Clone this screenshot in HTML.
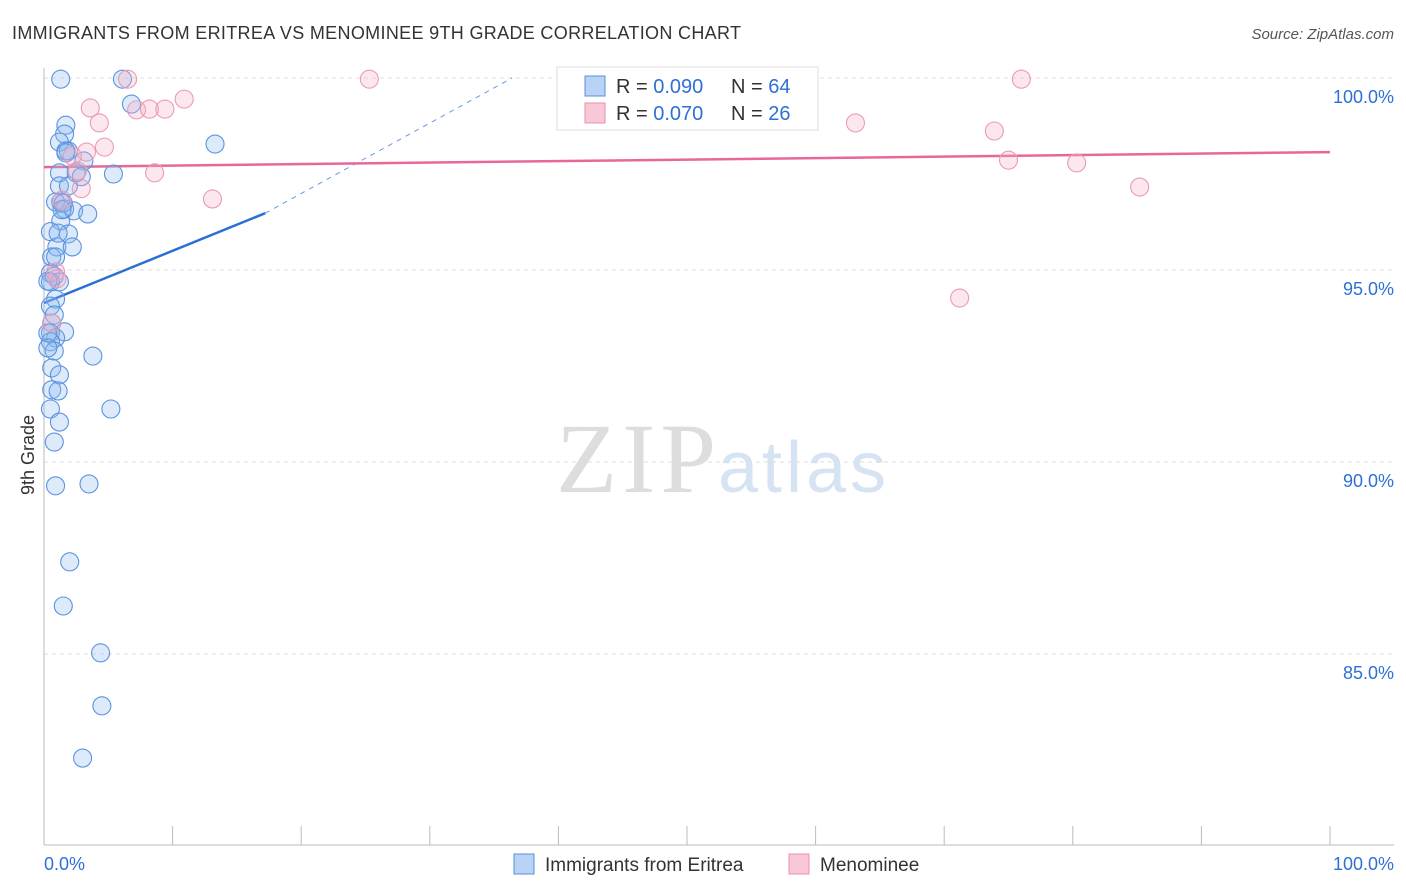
<!DOCTYPE html>
<html><head><meta charset="utf-8"><style>
body{margin:0;background:#fff;font-family:"Liberation Sans",sans-serif}
</style></head><body>
<svg width="1406" height="892" style="display:block">
<text x="12" y="39" font-size="18" fill="#333" textLength="729">IMMIGRANTS FROM ERITREA VS MENOMINEE 9TH GRADE CORRELATION CHART</text>
<text x="1394" y="39" font-size="15" fill="#555" text-anchor="end" font-style="italic">Source: ZipAtlas.com</text>
<text x="716" y="492" font-size="100" fill="#ddd" text-anchor="end" font-family="Liberation Serif" textLength="160">ZIP</text>
<text x="718" y="492" font-size="72" fill="#d6e3f3" textLength="168">atlas</text>
<text x="34" y="455" font-size="18" fill="#333" text-anchor="middle" transform="rotate(-90 34 455)">9th Grade</text>
<g id="grid"></g><g id="axes"></g><g id="trend"></g><g id="pts"></g>
<g>
<rect x="557" y="67" width="261" height="63" fill="#fff" stroke="#ddd"/>
<rect x="585" y="76" width="20" height="20" fill="#b8d3f5" stroke="#5a8fdc"/>
<text x="616" y="93" font-size="20" fill="#333">R = <tspan fill="#2f6fd6">0.090</tspan></text>
<text x="731" y="93" font-size="20" fill="#333">N = <tspan fill="#2f6fd6">64</tspan></text>
<rect x="585" y="103" width="20" height="20" fill="#f9c8d6" stroke="#e890ac"/>
<text x="616" y="120" font-size="20" fill="#333">R = <tspan fill="#2f6fd6">0.070</tspan></text>
<text x="731" y="120" font-size="20" fill="#333">N = <tspan fill="#2f6fd6">26</tspan></text>
</g>
<g>
<rect x="514" y="854" width="20" height="20" fill="#b8d3f5" stroke="#5a8fdc"/>
<text x="545" y="871" font-size="19" fill="#333">Immigrants from Eritrea</text>
<rect x="789" y="854" width="20" height="20" fill="#f9c8d6" stroke="#e890ac"/>
<text x="820" y="871" font-size="19" fill="#333">Menominee</text>
</g>
<text x="44" y="870" font-size="18" fill="#2f6fd6">0.0%</text>
<text x="1394" y="870" font-size="18" fill="#2f6fd6" text-anchor="end">100.0%</text>
</svg>
<script>
const yTicks=[100,95,90,85];
const blueX=[1.3,6.1,6.8,13.3,1.7,1.6,1.2,1.9,1.7,3.1,2.5,1.2,2.9,5.4,1.2,1.9,1.3,0.9,1.6,2.3,3.4,1.3,0.5,1.9,1.0,2.2,0.6,0.9,0.5,0.8,1.2,0.5,0.9,0.5,0.8,0.6,1.6,0.5,0.9,0.5,0.8,3.8,0.6,1.2,0.6,1.1,0.5,5.2,1.2,0.8,0.9,3.5,2.0,1.5,4.4,4.5,3.0,0.3,0.3,1.5,1.1,1.7,1.4,0.3];
const blueY=[99.97,99.97,99.32,98.28,98.77,98.54,98.33,98.1,98.1,97.84,97.53,97.53,97.43,97.5,97.19,97.19,96.77,96.77,96.59,96.54,96.46,96.28,96.0,95.94,95.6,95.6,95.34,95.34,94.92,94.84,94.69,94.69,94.24,94.06,93.83,93.62,93.39,93.36,93.23,93.13,92.89,92.76,92.45,92.27,91.88,91.85,91.38,91.38,91.04,90.52,89.38,89.43,87.4,86.25,85.03,83.65,82.29,94.71,93.36,96.74,95.96,98.05,96.57,92.97];
const pinkX=[6.5,25.3,76.0,3.6,7.2,8.2,9.4,10.9,4.3,63.1,73.9,4.7,3.3,2.2,2.6,8.6,2.9,13.1,75.0,80.3,85.2,71.2,0.9,1.0,1.4,0.6];
const pinkY=[99.97,99.97,99.97,99.22,99.17,99.19,99.19,99.45,98.83,98.83,98.62,98.2,98.07,97.97,97.58,97.53,97.12,96.85,97.86,97.79,97.16,94.27,94.95,94.77,96.82,93.62];
const X=v=>44+v*12.86, Y=v=>78+(100-v)*38.4;
const NS='http://www.w3.org/2000/svg';
function mk(p,t,a){const e=document.createElementNS(NS,t);for(const k in a)e.setAttribute(k,a[k]);document.getElementById(p).appendChild(e);return e;}
yTicks.forEach(t=>{
 const l=mk('grid','line',{x1:44,x2:1394,y1:Y(t),y2:Y(t),stroke:'#ddd','stroke-dasharray':'4,4'});
 
 
 const s=mk('grid','text',{x:1394,y:Y(t)+25,'font-size':18,fill:'#2f6fd6','text-anchor':'end'});s.textContent=t.toFixed(1)+'%';
 
 
});
mk('axes','line',{x1:44,x2:44,y1:68,y2:845,stroke:'#bbb'});
mk('axes','line',{x1:44,x2:1394,y1:845,y2:845,stroke:'#bbb'});
for(let i=0;i<=10;i++){const t=mk('axes','line',{x1:X(i*10),x2:X(i*10),y1:826,y2:845,stroke:'#bbb'});
 
 }
const b0=94.14,b1=0.136;
const bl=mk('trend','line',{x1:X(0),y1:Y(b0),x2:X(17.2),y2:Y(b0+b1*17.2),stroke:'#2a6fd4','stroke-width':2.5});


mk('trend','line',{x1:X(17.2),y1:Y(b0+b1*17.2),x2:X(36.4),y2:Y(100),stroke:'#2a6fd4','stroke-width':1,'stroke-dasharray':'5,5','stroke-opacity':0.7});
const pl=mk('trend','line',{x1:X(0),y1:Y(97.68),x2:X(100),y2:Y(98.07),stroke:'#e8679a','stroke-width':2.5});


blueX.forEach((x,i)=>{const c=mk('pts','circle',{cx:X(x),cy:Y(blueY[i]),r:9,fill:'rgba(140,185,240,0.3)',stroke:'#5b93e0','stroke-width':1.1});
 
 });
pinkX.forEach((x,i)=>{const c=mk('pts','circle',{cx:X(x),cy:Y(pinkY[i]),r:9,fill:'rgba(245,175,200,0.3)',stroke:'#eb9ab5','stroke-width':1.1});
 
 });
</script>
</body></html>
